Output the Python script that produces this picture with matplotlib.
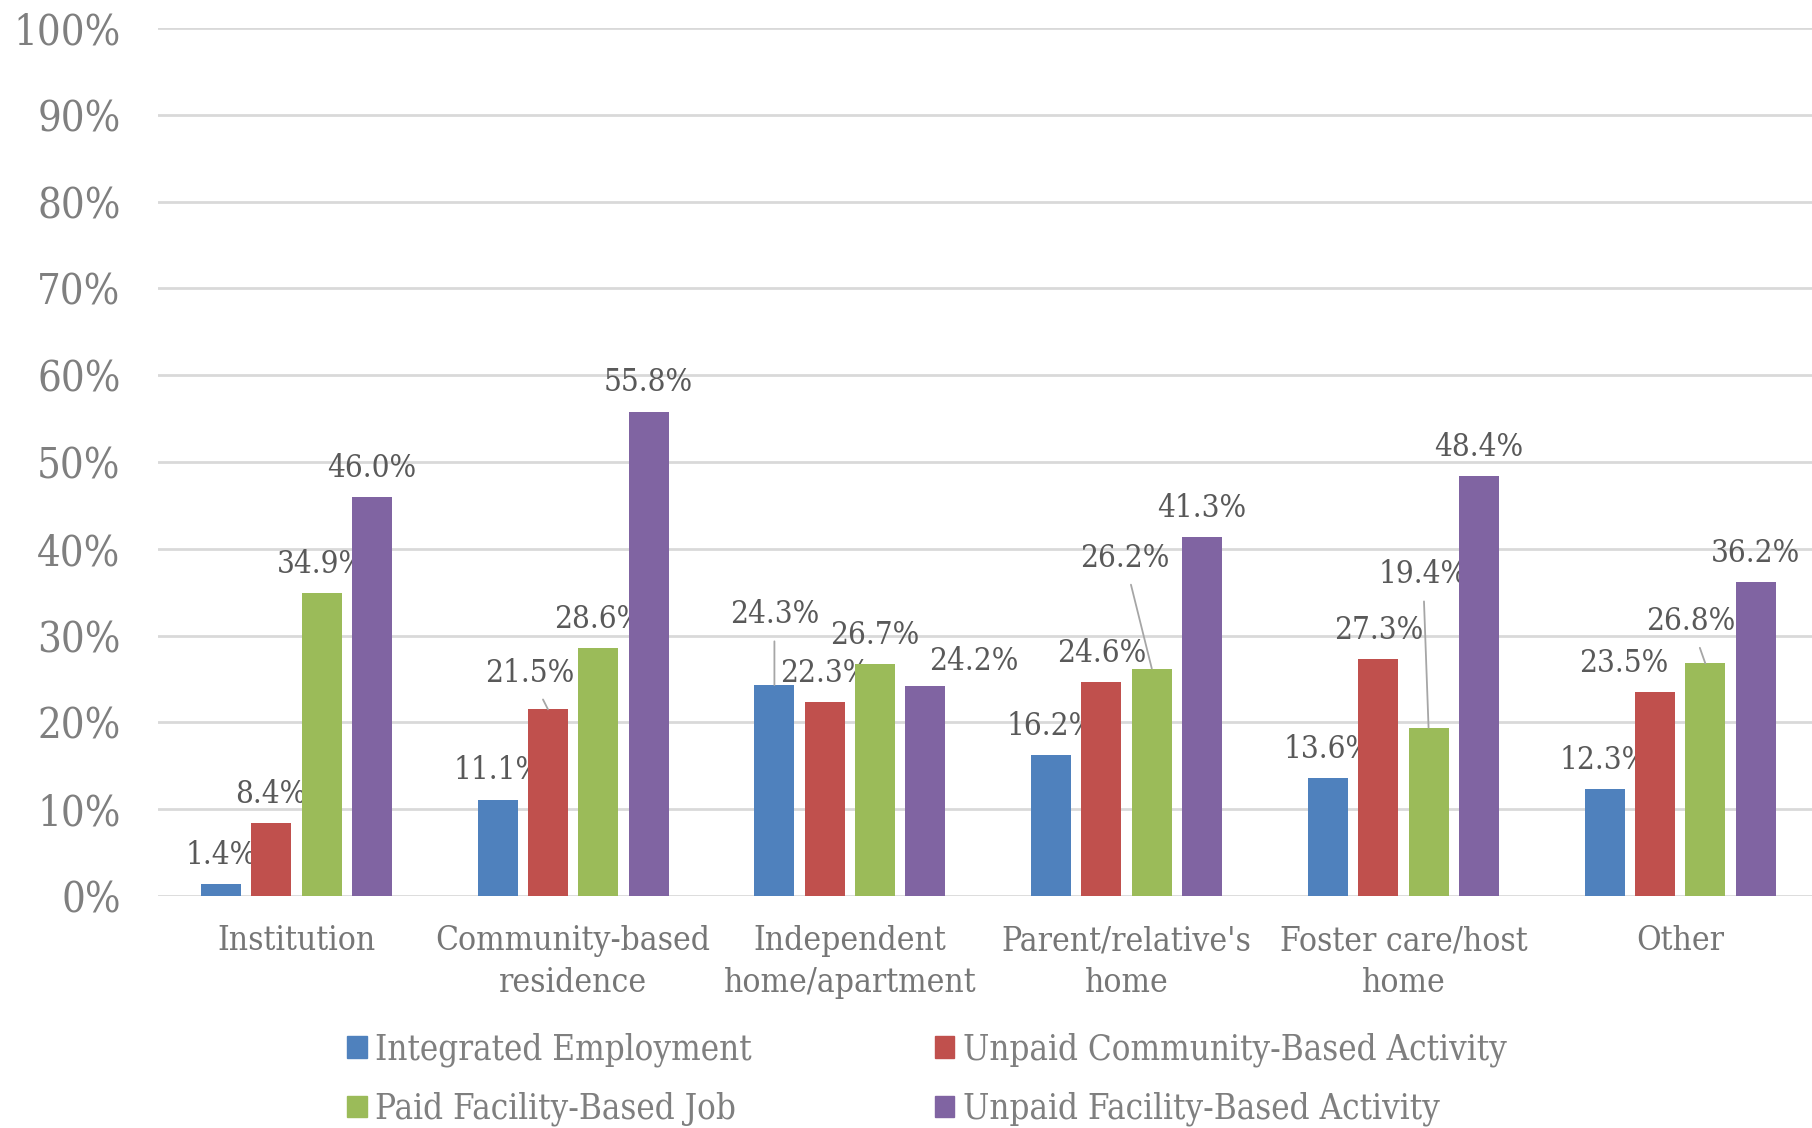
import matplotlib
matplotlib.use('Agg')
import matplotlib.pyplot as plt
from matplotlib.patches import Patch
import numpy as np

# data (percent)
categories = ['Institution', 'Community-based\nresidence', 'Independent\nhome/apartment',
              "Parent/relative's\nhome", 'Foster care/host\nhome', 'Other']
series = ['Integrated Employment', 'Unpaid Community-Based Activity',
          'Paid Facility-Based Job', 'Unpaid Facility-Based Activity']
integrated = [1.4, 11.1, 24.3, 16.2, 13.6, 12.3]
unpaid_community = [8.4, 21.5, 22.3, 24.6, 27.3, 23.5]
paid_facility = [34.9, 28.6, 26.7, 26.2, 19.4, 26.8]
unpaid_facility = [46.0, 55.8, 24.2, 41.3, 48.4, 36.2]
values = [integrated, unpaid_community, paid_facility, unpaid_facility]

colors = ['#4F81BD', '#C0504D', '#9BBB59', '#8064A2']

# labels that were moved by hand in the original: (series, category) -> (x shift, label y, leader line)
moved = {
    (1, 1): (-0.065, 25.6, True),
    (0, 2): (0.0, 32.4, True),
    (3, 2): (0.175, 27.0, False),
    (2, 3): (-0.099, 38.9, True),
    (2, 4): (-0.02, 37.0, True),
    (1, 5): (-0.112, 26.8, False),
    (2, 5): (-0.053, 31.6, True),
}

plt.rcParams['font.family'] = 'DejaVu Serif'
plt.rcParams['font.stretch'] = 'condensed'

fig = plt.figure(figsize=(18.12, 11.28), dpi=100)
ax = fig.add_axes([0.0872, 0.2057, 0.9164, 0.7695])

x = np.arange(len(categories))
pitch = 0.1818
width = 0.1446
for i, vals in enumerate(values):
    xs = x + (i - 1.5) * pitch
    ax.bar(xs, vals, width, color=colors[i], zorder=3)
    for j, v in enumerate(vals):
        if (i, j) in moved:
            dx, ly, leader = moved[(i, j)]
            if leader:
                ax.annotate(f'{v:.1f}%', xy=(xs[j], v), xytext=(xs[j] + dx, ly),
                            ha='center', va='center', fontsize=22.5, color='#595959',
                            arrowprops=dict(arrowstyle='-', color='#a6a6a6', lw=1.3,
                                            shrinkA=6, shrinkB=0))
            else:
                ax.text(xs[j] + dx, ly, f'{v:.1f}%', ha='center', va='center',
                        fontsize=22.5, color='#595959')
        else:
            ax.text(xs[j], v + 3.3, f'{v:.1f}%', ha='center', va='center',
                    fontsize=22.5, color='#595959')

ax.set_xlim(-0.5, len(categories) - 0.5)
ax.set_ylim(0, 100)
ax.set_yticks(range(0, 101, 10))
ax.set_yticklabels([f'{t}%' for t in range(0, 101, 10)], fontsize=30, color='#7f7f7f')
ax.set_xticks(x)
ax.set_xticklabels(categories, fontsize=24, color='#767676', linespacing=1.38)
ax.tick_params(axis='y', length=0, pad=27)
ax.tick_params(axis='x', length=0, pad=21)
ax.grid(axis='y', color='#d9d9d9', lw=2, zorder=0)
for s in ax.spines.values():
    s.set_visible(False)

handles = [Patch(color=c) for c in colors]
order = [0, 2, 1, 3]
fig.legend([handles[k] for k in order], [series[k] for k in order], ncol=2,
           loc='center', bbox_to_anchor=(0.5115, 0.0432), frameon=False,
           fontsize=25, labelcolor='#7f7f7f', handlelength=0.57, handleheight=0.57,
           handletextpad=0.25, columnspacing=5.26, labelspacing=0.72, borderpad=0)

fig.savefig('out.png', dpi=100)
